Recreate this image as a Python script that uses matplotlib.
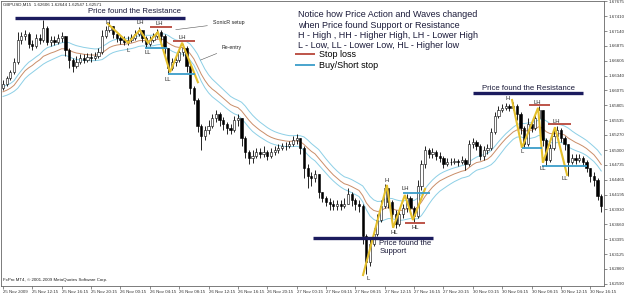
import matplotlib
matplotlib.use("Agg")
import matplotlib.pyplot as plt
import numpy as np

plt.rcParams['font.family'] = ['Liberation Sans', 'DejaVu Sans']

# GBPUSD M15 screenshot, candles (one per 30 minutes)
first_open = 1.6612
closes = [1.6619, 1.6630, 1.6640, 1.6658, 1.6698, 1.6705, 1.6709, 1.6691, 1.6687, 1.6702,
          1.6698, 1.6720, 1.6694, 1.6698, 1.6694, 1.6702, 1.6705, 1.6680, 1.6662, 1.6651,
          1.6658, 1.6666, 1.6662, 1.6667, 1.6666, 1.6669, 1.6676, 1.6705, 1.6716, 1.6723,
          1.6709, 1.6702, 1.6698, 1.6694, 1.6698, 1.6702, 1.6709, 1.6716, 1.6702, 1.6691,
          1.6698, 1.6705, 1.6712, 1.6705, 1.6684, 1.6648, 1.6658, 1.6662, 1.6676, 1.6684,
          1.6651, 1.6612, 1.6590, 1.6543, 1.6525, 1.6536, 1.6543, 1.6558, 1.6565, 1.6554,
          1.6547, 1.6540, 1.6536, 1.6554, 1.6558, 1.6522, 1.6496, 1.6486, 1.6489, 1.6496,
          1.6493, 1.6496, 1.6489, 1.6496, 1.6500, 1.6504, 1.6507, 1.6507, 1.6511, 1.6518,
          1.6522, 1.6504, 1.6468, 1.6453, 1.6450, 1.6457, 1.6424, 1.6414, 1.6406, 1.6403,
          1.6399, 1.6403, 1.6399, 1.6403, 1.6421, 1.6410, 1.6403, 1.6399, 1.6345, 1.6298,
          1.6331, 1.6349, 1.6374, 1.6399, 1.6432, 1.6406, 1.6385, 1.6367, 1.6385, 1.6396,
          1.6414, 1.6396, 1.6381, 1.6435, 1.6475, 1.6500, 1.6493, 1.6496, 1.6489, 1.6486,
          1.6475, 1.6478, 1.6478, 1.6480, 1.6478, 1.6482, 1.6475, 1.6511, 1.6514, 1.6507,
          1.6489, 1.6500, 1.6504, 1.6532, 1.6561, 1.6572, 1.6576, 1.6579, 1.6576, 1.6579,
          1.6565, 1.6540, 1.6511, 1.6547, 1.6540, 1.6558, 1.6572, 1.6518, 1.6482, 1.6504,
          1.6525, 1.6536, 1.6522, 1.6511, 1.6478, 1.6486, 1.6482, 1.6486, 1.6478, 1.6468,
          1.6453, 1.6446, 1.6417, 1.6399]
highs = [1.6626, 1.6633, 1.6644, 1.6666, 1.6712, 1.6712, 1.6716, 1.6712, 1.6698, 1.6709,
         1.6709, 1.6734, 1.6723, 1.6705, 1.6705, 1.6709, 1.6712, 1.6705, 1.6684, 1.6666,
         1.6669, 1.6673, 1.6673, 1.6675, 1.6675, 1.6676, 1.6684, 1.6716, 1.6723, 1.6730,
         1.6723, 1.6712, 1.6707, 1.6705, 1.6705, 1.6709, 1.6716, 1.6721, 1.6716, 1.6705,
         1.6705, 1.6711, 1.6718, 1.6716, 1.6709, 1.6684, 1.6666, 1.6671, 1.6684, 1.6691,
         1.6687, 1.6655, 1.6615, 1.6594, 1.6547, 1.6543, 1.6554, 1.6565, 1.6572, 1.6568,
         1.6559, 1.6550, 1.6547, 1.6561, 1.6565, 1.6558, 1.6525, 1.6500, 1.6500, 1.6504,
         1.6504, 1.6507, 1.6500, 1.6504, 1.6507, 1.6511, 1.6513, 1.6514, 1.6516, 1.6525,
         1.6529, 1.6522, 1.6507, 1.6475, 1.6460, 1.6464, 1.6457, 1.6424, 1.6417, 1.6414,
         1.6410, 1.6410, 1.6410, 1.6414, 1.6432, 1.6424, 1.6414, 1.6410, 1.6403, 1.6349,
         1.6342, 1.6360, 1.6385, 1.6410, 1.6439, 1.6428, 1.6410, 1.6392, 1.6396, 1.6403,
         1.6421, 1.6417, 1.6399, 1.6446, 1.6482, 1.6507, 1.6504, 1.6504, 1.6500, 1.6496,
         1.6489, 1.6486, 1.6486, 1.6486, 1.6484, 1.6489, 1.6486, 1.6518, 1.6522, 1.6518,
         1.6511, 1.6507, 1.6511, 1.6540, 1.6568, 1.6579, 1.6583, 1.6585, 1.6583, 1.6586,
         1.6583, 1.6568, 1.6543, 1.6558, 1.6554, 1.6565, 1.6579, 1.6572, 1.6522, 1.6511,
         1.6536, 1.6543, 1.6540, 1.6525, 1.6511, 1.6493, 1.6493, 1.6493, 1.6489, 1.6482,
         1.6468, 1.6460, 1.6450, 1.6421]
lows = [1.6608, 1.6615, 1.6626, 1.6637, 1.6655, 1.6691, 1.6698, 1.6684, 1.6680, 1.6684,
        1.6691, 1.6694, 1.6689, 1.6687, 1.6689, 1.6691, 1.6694, 1.6669, 1.6648, 1.6640,
        1.6648, 1.6655, 1.6657, 1.6658, 1.6658, 1.6662, 1.6666, 1.6673, 1.6702, 1.6712,
        1.6702, 1.6694, 1.6691, 1.6689, 1.6689, 1.6694, 1.6698, 1.6705, 1.6694, 1.6684,
        1.6687, 1.6694, 1.6702, 1.6694, 1.6673, 1.6637, 1.6644, 1.6651, 1.6658, 1.6669,
        1.6640, 1.6601, 1.6583, 1.6532, 1.6500, 1.6518, 1.6529, 1.6540, 1.6550, 1.6543,
        1.6536, 1.6529, 1.6529, 1.6532, 1.6543, 1.6507, 1.6486, 1.6475, 1.6477, 1.6486,
        1.6486, 1.6487, 1.6482, 1.6486, 1.6491, 1.6495, 1.6500, 1.6500, 1.6504, 1.6507,
        1.6511, 1.6493, 1.6450, 1.6432, 1.6435, 1.6442, 1.6414, 1.6406, 1.6399, 1.6392,
        1.6392, 1.6392, 1.6392, 1.6396, 1.6403, 1.6399, 1.6392, 1.6388, 1.6331, 1.6277,
        1.6291, 1.6327, 1.6345, 1.6370, 1.6396, 1.6396, 1.6374, 1.6360, 1.6363, 1.6378,
        1.6388, 1.6388, 1.6370, 1.6378, 1.6428, 1.6468, 1.6486, 1.6486, 1.6482, 1.6478,
        1.6468, 1.6471, 1.6473, 1.6475, 1.6471, 1.6475, 1.6464, 1.6471, 1.6504, 1.6500,
        1.6482, 1.6482, 1.6493, 1.6500, 1.6529, 1.6558, 1.6568, 1.6572, 1.6570, 1.6572,
        1.6554, 1.6529, 1.6504, 1.6507, 1.6532, 1.6536, 1.6554, 1.6507, 1.6471, 1.6478,
        1.6500, 1.6522, 1.6514, 1.6500, 1.6453, 1.6475, 1.6475, 1.6478, 1.6471, 1.6460,
        1.6442, 1.6435, 1.6410, 1.6388]

# SonicR dragon (EMA 34 of high / close / low) values at the left edge
dragon_seed = [1.6613, 1.6603, 1.6595]
dragon_span = 17

x_tick_labels = ["25 Nov 2009", "25 Nov 12:15", "25 Nov 16:15", "25 Nov 20:15",
                 "26 Nov 00:15", "26 Nov 04:15", "26 Nov 08:15", "26 Nov 12:15",
                 "26 Nov 16:15", "26 Nov 20:15", "27 Nov 00:15", "27 Nov 04:15",
                 "27 Nov 08:15", "27 Nov 12:15", "27 Nov 16:15", "27 Nov 20:15",
                 "30 Nov 00:15", "30 Nov 04:15", "30 Nov 08:15", "30 Nov 12:15",
                 "30 Nov 16:15"]
y_tick_values = [1.67675, 1.67410, 1.67140, 1.66875, 1.66605, 1.66340, 1.66075,
                 1.65805, 1.65535, 1.65270, 1.65000, 1.64735, 1.64465, 1.64195,
                 1.63930, 1.63660, 1.63395, 1.63125, 1.62860, 1.62590]

# wave zigzags (bar index, price)
wave_x = [[28.6, 34.1, 37.3, 39.5, 42.2, 45.5, 48.8, 53.1],
          [98.1, 104.6, 106.3, 109.5, 111.7, 115.0],
          [138.7, 141.4, 145.8, 147.1, 150.4, 153.7]]
wave_y = [[1.6727, 1.6693, 1.6716, 1.6693, 1.6712, 1.6640, 1.6693, 1.6622],
          [1.6275, 1.6437, 1.6360, 1.6419, 1.6374, 1.6430],
          [1.6590, 1.6504, 1.6576, 1.6477, 1.6541, 1.6455]]

# support / resistance, stop loss, buy/short stop levels: (start, end, price)
sr_levels = [(3.3, 49.6, 1.6738), (84.5, 117.2, 1.6342), (128.1, 158.0, 1.6603)]
stop_levels = [(40.1, 46.0, 1.6721), (46.3, 52.3, 1.6696), (109.5, 115.0, 1.6368),
               (143.3, 149.0, 1.6581), (148.5, 154.8, 1.6547)]
entry_levels = [(38.7, 44.7, 1.6684), (45.0, 52.3, 1.6637), (109.0, 116.3, 1.6423),
                (141.4, 146.9, 1.6504), (146.9, 159.1, 1.6471)]

swing_labels = ["H", "LH", "LH", "LH", "L", "LL", "LL",
                "H", "LH", "HL", "HL", "L",
                "H", "LH", "LH", "L", "LL", "LL"]
swing_x = [28.6, 37.3, 42.5, 48.8, 34.1, 39.5, 45.0,
           104.6, 109.5, 106.5, 112.3, 99.5,
           137.6, 145.5, 150.7, 141.4, 147.1, 153.1]
swing_y = [1.6730, 1.6729, 1.6727, 1.6703, 1.6680, 1.6676, 1.6626,
           1.6446, 1.6430, 1.6351, 1.6361, 1.6268,
           1.6592, 1.6586, 1.6552, 1.6498, 1.6466, 1.6448]


def ema(values, seed, span):
    alpha = 2.0 / (span + 1)
    out = []
    prev = seed
    for v in values:
        prev = prev + alpha * (v - prev)
        out.append(prev)
    return np.array(out)


closes = np.array(closes)
highs = np.array(highs)
lows = np.array(lows)
opens = np.concatenate([[first_open], closes[:-1]])
idx = np.arange(len(closes))

fig = plt.figure(figsize=(6.25, 3.02), dpi=100)
ax = fig.add_axes([1 / 625, 16 / 302, 603 / 625, 285 / 302])

# dragon bands
ax.plot(idx, ema(highs, dragon_seed[0], dragon_span), color='#8ccfe6', lw=0.7, zorder=2)
ax.plot(idx, ema(closes, dragon_seed[1], dragon_span), color='#c98d68', lw=0.7, zorder=2)
ax.plot(idx, ema(lows, dragon_seed[2], dragon_span), color='#8ccfe6', lw=0.7, zorder=2)

# candles
ax.vlines(idx, lows, highs, color='black', linewidth=0.6, zorder=3)
up = closes >= opens
ax.bar(idx[up], (closes - opens)[up], bottom=opens[up], width=0.6,
       color='white', edgecolor='black', linewidth=0.4, zorder=4)
ax.bar(idx[~up], (closes - opens)[~up], bottom=opens[~up], width=0.6,
       color='black', edgecolor='black', linewidth=0.4, zorder=4)

# waves
for wx, wy in zip(wave_x, wave_y):
    ax.plot(wx, wy, color='#e4bf2c', lw=1.5, zorder=5, solid_joinstyle='miter')

for x0, x1, p in sr_levels:
    ax.hlines(p, x0, x1, color='#1b1b5e', lw=2.4, zorder=6)
for i, (x0, x1, p) in enumerate(stop_levels):
    h_stop = ax.hlines(p, x0, x1, color='#b8473a', lw=1.3, zorder=6)
for x0, x1, p in entry_levels:
    h_entry = ax.hlines(p, x0, x1, color='#3a9dc9', lw=1.3, zorder=6)

for lab, sx, sy in zip(swing_labels, swing_x, swing_y):
    ax.text(sx, sy, lab, fontsize=4.2, ha='center', va='center', color='#222222', zorder=7)

# headline texts
ax.text(35.7, 1.6749, "Price found the Resistance", fontsize=5.6, ha='center', va='center',
        color='#1b1b3a', zorder=7)
ax.text(143.1, 1.6611, "Price found the Resistance", fontsize=5.6, ha='center', va='center',
        color='#1b1b3a', zorder=7)
ax.text(102.5, 1.6338, "Price found the\nSupport", fontsize=5.6, ha='left', va='top',
        color='#1b1b3a', linespacing=1.15, zorder=7)

ax.annotate("SonicR setup", xy=(46.3, 1.6716), xytext=(57.2, 1.67286), fontsize=3.8,
            va='center', ha='left', color='#222222',
            arrowprops=dict(arrowstyle='-', color='#555555', lw=0.4))
ax.annotate("Re-entry", xy=(53.1, 1.6660), xytext=(59.7, 1.6685), fontsize=3.8,
            va='center', ha='left', color='#222222',
            arrowprops=dict(arrowstyle='-', color='#555555', lw=0.4))

ax.text(0.4925, 0.968,
        "Notice how Price Action and Waves changed\n"
        "when Price found Support or Resistance\n"
        "H - High , HH - Higher High, LH - Lower High\n"
        "L - Low, LL - Lower Low, HL - Higher low",
        transform=ax.transAxes, fontsize=6.5, ha='left', va='top',
        linespacing=1.2, color='#1b1b3a')
ax.legend([h_stop, h_entry], ["Stop loss", "Buy/Short stop"],
          loc='upper left', bbox_to_anchor=(0.4876, 0.828), frameon=False,
          fontsize=6.5, handlelength=2.2, handletextpad=0.5, labelspacing=0.2,
          borderpad=0, borderaxespad=0)

ax.text(0.003, 0.994, "GBPUSD,M15  1.62606 1.62644 1.62547 1.62571", transform=ax.transAxes,
        fontsize=3.2, ha='left', va='top', color='#222222')
ax.text(0.003, 0.021, "FxPro MT4, \u00a9 2001-2009 MetaQuotes Software Corp.",
        transform=ax.transAxes, fontsize=3.2, ha='left', va='center', color='#222222')

ax.set_xlim(-0.55, 163.75)
ax.set_ylim(1.62552, 1.67682)
ax.yaxis.tick_right()
ax.set_yticks(y_tick_values)
ax.set_yticklabels([f"{v:.5f}" for v in y_tick_values])
ax.set_xticks(np.arange(len(x_tick_labels)) * 8)
ax.set_xticklabels(x_tick_labels)
for lbl in ax.get_xticklabels():
    lbl.set_ha('left')
ax.tick_params(axis='both', labelsize=3.2, length=2, width=0.4, pad=1, colors='#333333')
for s in ax.spines.values():
    s.set_color('#666666')
    s.set_linewidth(0.6)

fig.savefig("out.png", dpi=100)
